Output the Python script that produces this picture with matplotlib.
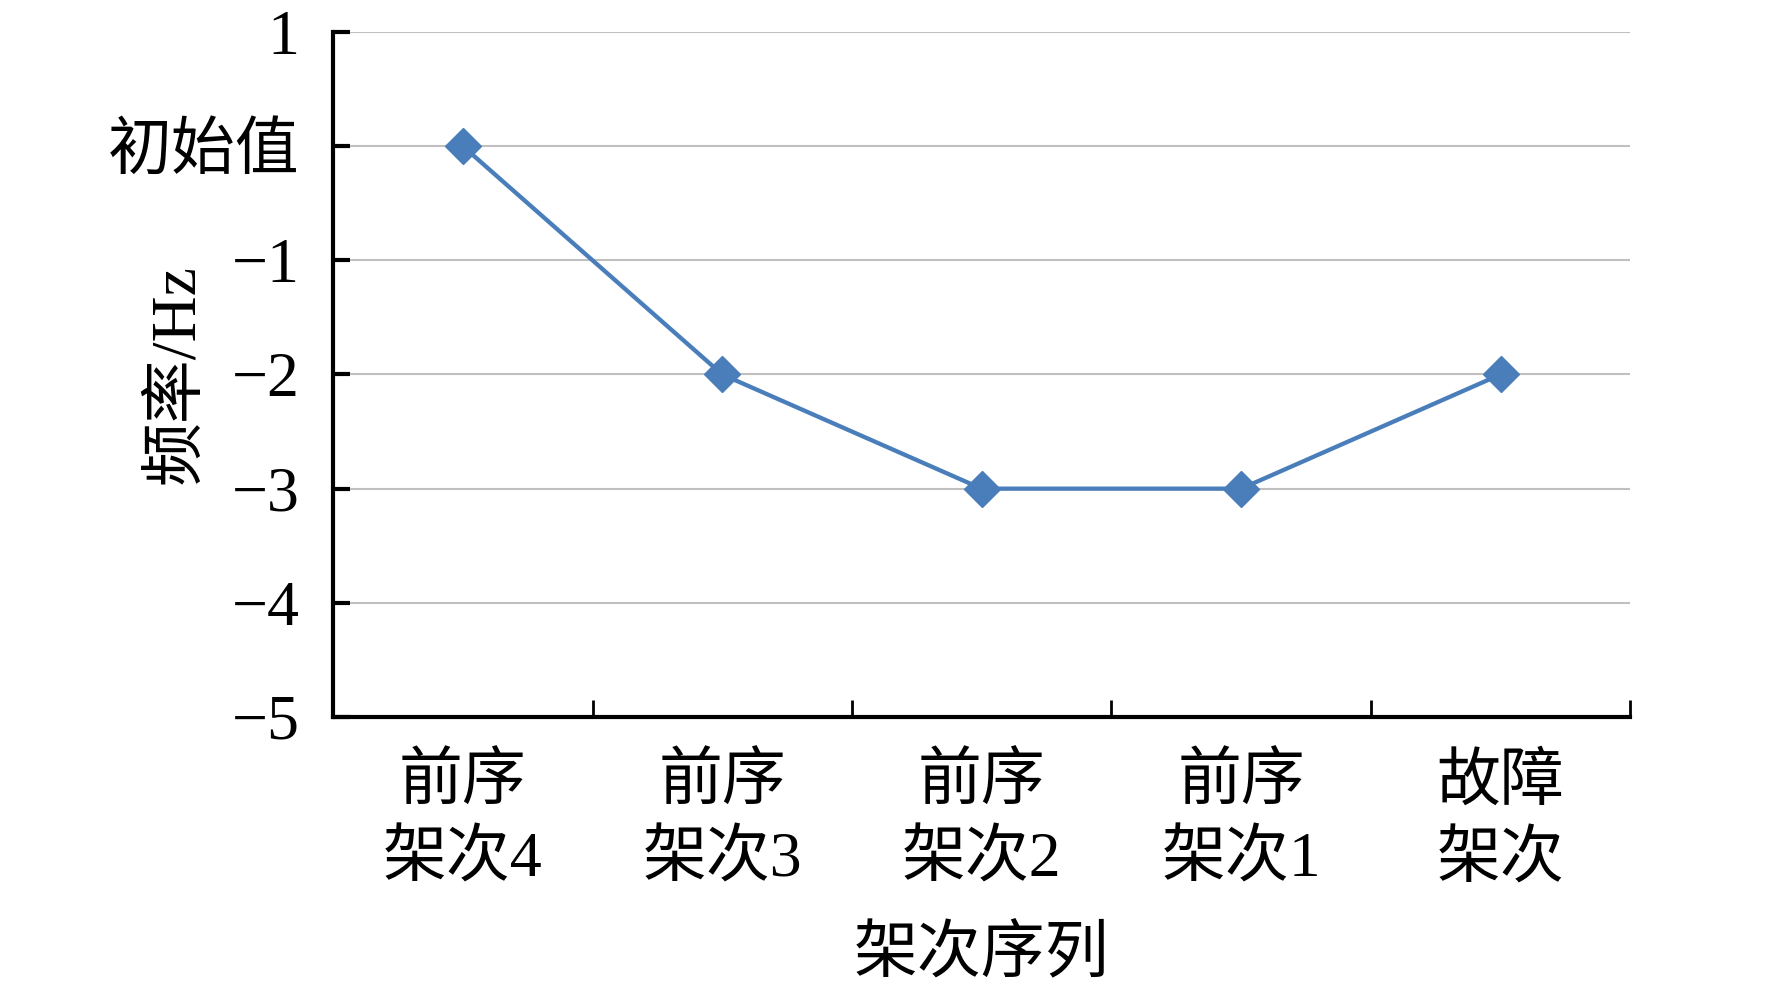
import matplotlib
matplotlib.use('Agg')
import matplotlib.pyplot as plt
import numpy as np


categories = ['前序\n架次4', '前序\n架次3', '前序\n架次2', '前序\n架次1', '故障\n架次']
values = [0, -2, -3, -3, -2]
ytick_vals = [1, 0, -1, -2, -3, -4, -5]
ytick_labels = ['1', '初始值', '\u22121', '\u22122', '\u22123', '\u22124', '\u22125']

plt.rcParams['font.family'] = ['Liberation Serif', 'Noto Sans CJK SC']
plt.rcParams['font.size'] = 46

fig = plt.figure(figsize=(17.72, 9.91), dpi=100)
ax = fig.add_axes([0.188, 0.2765, 0.732, 0.6912])

x = np.arange(len(categories))
ax.plot(x, values, color='#4a7ebb', lw=3.1, marker='D', markersize=18,
        markerfacecolor='#4a7ebb', markeredgecolor='#4a7ebb', zorder=3)

ax.set_xlim(-0.5, len(categories) - 0.5)
ax.set_ylim(-5, 1)

# category boundaries get the tick marks, labels sit in between
ax.set_xticks(np.arange(-0.5, len(categories), 1.0))
ax.set_xticklabels([])
ax.set_xticks(x, minor=True)
ax.set_xticklabels(categories, minor=True, linespacing=1.4)
ax.tick_params(axis='x', which='major', direction='in', length=12, width=2)
ax.tick_params(axis='x', which='minor', length=0, pad=27)

ax.set_yticks(ytick_vals)
ax.set_yticklabels(ytick_labels)
ax.tick_params(axis='y', direction='in', length=12, width=3, pad=24)

ax.yaxis.grid(True, color='#c0c0c0', lw=1.5)
ax.set_axisbelow(True)

for s in ['top', 'right']:
    ax.spines[s].set_visible(False)
ax.spines['left'].set_linewidth(3)
ax.spines['bottom'].set_linewidth(3)

ax.set_xlabel('架次序列')
ax.xaxis.set_label_coords(0.5, -0.307)
ax.set_ylabel('频率/Hz')
ax.yaxis.set_label_coords(-0.12, 0.5)
ax.yaxis.label.set_va('center')

fig.savefig('out.png', dpi=100)
